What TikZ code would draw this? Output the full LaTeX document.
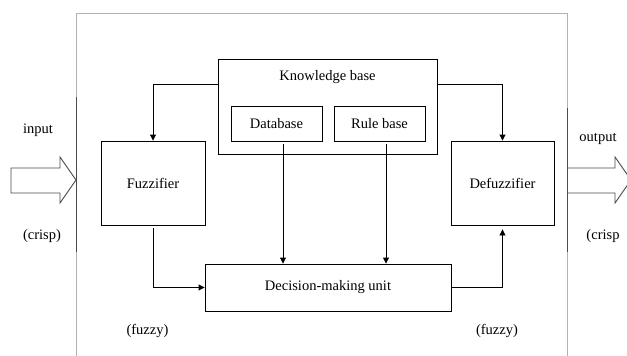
\documentclass[tikz,border=0pt]{standalone}
\usepackage{fontspec}
\setmainfont{Liberation Serif}
\usepackage{tikz}
\usetikzlibrary{arrows.meta, calc}

\tikzset{
    blk/.style={draw, line width=0.9pt, rectangle, inner sep=0pt},
    conn/.style={line width=0.9pt, -{Triangle[length=6pt, width=6pt]}},
    bigarrow/.style={draw=black!70, line width=0.9pt},
    txt/.style={inner sep=0pt, font=\fontsize{14.5}{17}\selectfont}
}

\begin{document}
\begin{tikzpicture}[x=1pt, y=-1pt]
    \clip (0,0) rectangle (627,356);
    \fill[white] (0,0) rectangle (627,356);

    % Outer frame
    \draw[gray!60, line width=1pt] (76,360) -- (76,13) -- (567,13) -- (567,360);
    \draw[black!70, line width=1pt] (76,97) -- (76,252);
    \draw[black!70, line width=1pt] (567,108) -- (567,252);

    % Blocks
    \node[blk, minimum width=219, minimum height=95] (kb) at (327.5,106.5) {};
    \node[txt] (kbtext) at (327.5,77) {Knowledge base};
    \node[blk, txt, draw, minimum width=91, minimum height=35] (db) at (276.5,123.5) {Database};
    \node[blk, txt, draw, minimum width=91, minimum height=35] (rb) at (379.5,123.5) {Rule base};
    \node[blk, minimum width=104, minimum height=84] (fuzz) at (153,183) {};
    \node[txt] at (fuzz) {Fuzzifier};
    \node[blk, minimum width=103, minimum height=84] (defuzz) at (502.5,183) {};
    \node[txt] at (defuzz) {Defuzzifier};
    \node[blk, txt, draw, minimum width=246, minimum height=47] (dec) at (328,287.5) {Decision-making unit};

    % Connectors
    \draw[conn] ($(kb.north west)+(0,26)$) -| (fuzz.north);
    \draw[conn] ($(kb.north east)+(0,26)$) -| (defuzz.north);
    \draw[conn] ([xshift=6.5pt, yshift=-3pt]db.south) coordinate (dbo) -- (dbo |- dec.north);
    \draw[conn] ([xshift=6.5pt, yshift=-3pt]rb.south) coordinate (rbo) -- (rbo |- dec.north);
    \draw[conn] ([yshift=-3pt]fuzz.south) |- (dec.west);
    \draw[conn] (dec.east) -| ([yshift=-4pt]defuzz.south);

    % Crisp input and output
    \draw[bigarrow] (11,168) -- (60,168) -- (60,157) -- (76,180) -- (60,203) -- (60,193) -- (11,193) -- cycle;
    \draw[bigarrow] (567,168) -- (615,168) -- (615,157) -- (631,180) -- (615,203) -- (615,193) -- (567,193);

    % Labels
    \node[txt] (inlbl) at (38,130) {input};
    \node[txt] (outlbl) at (598,139) {output};
    \node[txt] (crispin) at (42,236) {(crisp)};
    \node[txt] (crispout) at (603,236) {(crisp};
    \node[txt] (fuzzyin) at (147.5,331) {(fuzzy)};
    \node[txt] (fuzzyout) at (497,331) {(fuzzy)};
\end{tikzpicture}
\end{document}
